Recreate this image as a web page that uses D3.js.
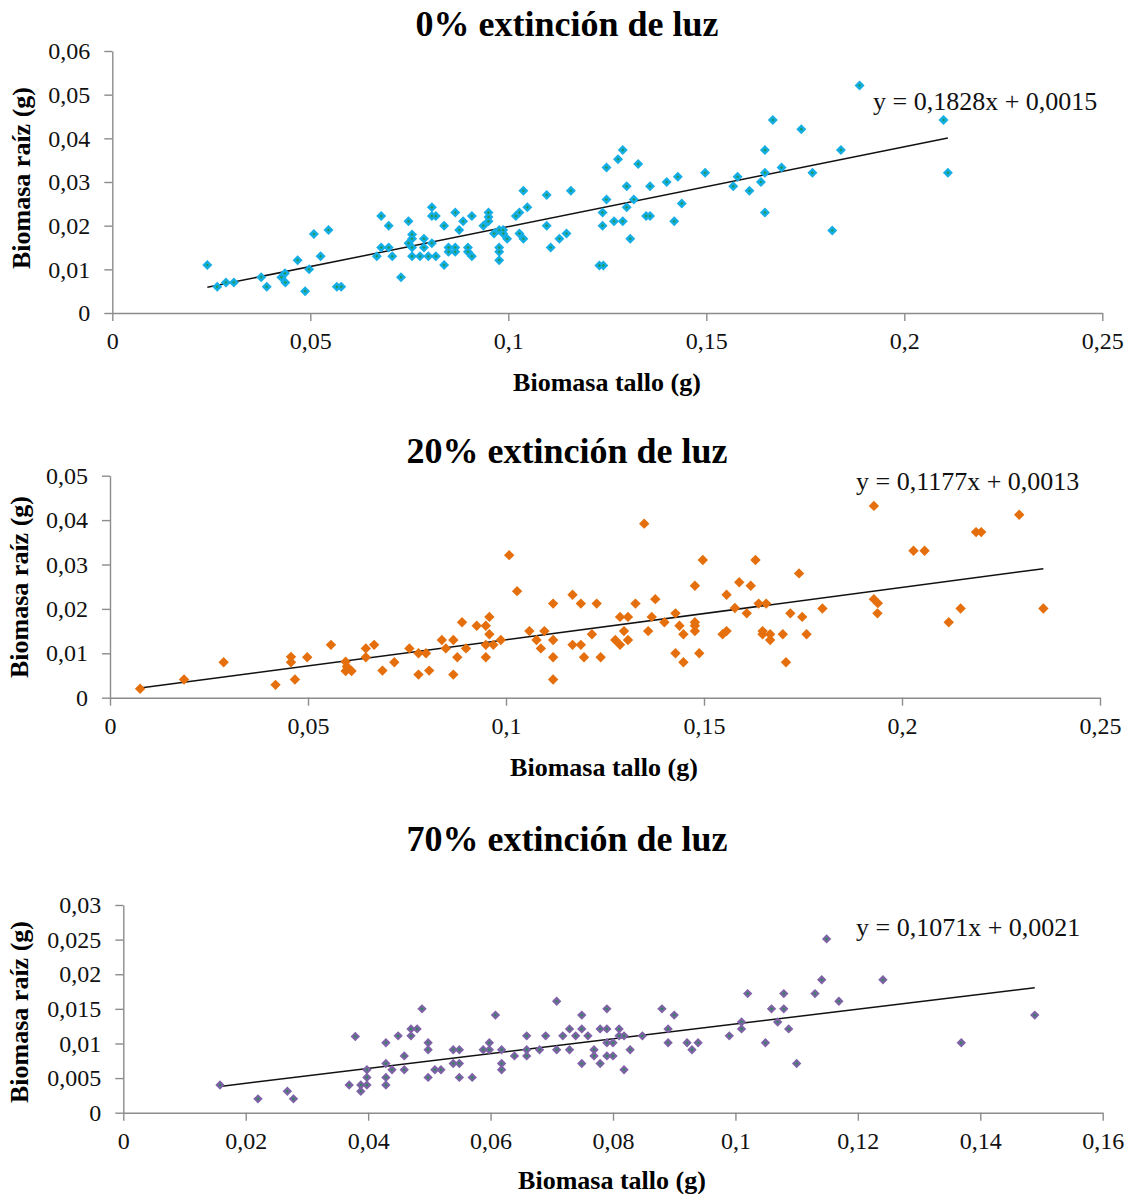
<!DOCTYPE html>
<html>
<head>
<meta charset="utf-8">
<script src="https://cdn.jsdelivr.net/npm/d3@7"></script>
<style>
  html, body { margin: 0; padding: 0; background: #fff; }
  svg { display: block; }
</style>
</head>
<body>
<svg id="chart" width="1131" height="1194"></svg>
<script>
// Biomasa tallo (x) vs biomasa raíz (y), in grams, for each light-extinction treatment
const puntos0 = [
  [0.024,0.011],[0.0265,0.006],[0.0287,0.007],[0.0307,0.007],[0.0376,0.0082],[0.039,0.006],
  [0.0427,0.0082],[0.0436,0.0091],[0.0437,0.007],[0.0468,0.0121],[0.0487,0.005],[0.0497,0.010],
  [0.0509,0.0181],[0.0526,0.013],[0.0546,0.019],[0.0567,0.006],[0.0578,0.006],[0.0668,0.013],
  [0.0679,0.0222],[0.0679,0.015],[0.0698,0.020],[0.0698,0.015],[0.0707,0.013],[0.0729,0.0082],
  [0.0748,0.021],[0.0748,0.016],[0.0757,0.018],[0.0757,0.017],[0.0757,0.015],[0.0757,0.013],
  [0.0777,0.013],[0.0787,0.017],[0.0787,0.015],[0.0798,0.013],[0.0807,0.0242],[0.0807,0.0222],
  [0.0817,0.0222],[0.0807,0.016],[0.0817,0.013],[0.0838,0.020],[0.0838,0.011],[0.0849,0.015],
  [0.0849,0.014],[0.0866,0.023],[0.0866,0.015],[0.0866,0.014],[0.0876,0.019],[0.0886,0.021],
  [0.0898,0.015],[0.0898,0.014],[0.0908,0.0222],[0.0908,0.013],[0.0937,0.020],[0.095,0.023],
  [0.095,0.022],[0.095,0.021],[0.0964,0.0182],[0.0977,0.019],[0.0977,0.015],[0.0977,0.014],
  [0.0977,0.0121],[0.0987,0.019],[0.0987,0.0182],[0.0997,0.017],[0.1019,0.0222],[0.1028,0.023],
  [0.1028,0.0182],[0.1038,0.028],[0.1038,0.017],[0.1048,0.0242],[0.1097,0.027],[0.1097,0.020],
  [0.1107,0.015],[0.1129,0.017],[0.1147,0.0182],[0.1158,0.028],[0.123,0.0109],[0.124,0.0109],
  [0.1238,0.023],[0.1238,0.020],[0.1248,0.0333],[0.1248,0.026],[0.1267,0.021],[0.1277,0.0352],
  [0.1289,0.0373],[0.1289,0.021],[0.1299,0.029],[0.1299,0.0242],[0.1308,0.017],[0.1317,0.026],
  [0.1328,0.0341],[0.1348,0.0222],[0.1358,0.0222],[0.1358,0.029],[0.14,0.030],[0.1419,0.021],
  [0.1428,0.0312],[0.1438,0.0251],[0.1497,0.0321],[0.1568,0.029],[0.1579,0.0312],[0.1609,0.028],
  [0.1638,0.030],[0.1648,0.0373],[0.1648,0.0321],[0.1648,0.023],[0.1668,0.0442],[0.169,0.0333],
  [0.174,0.0421],[0.1768,0.0321],[0.1818,0.0189],[0.184,0.0373],[0.1887,0.0521],[0.2099,0.0442],
  [0.211,0.0321]
];

const puntos20 = [
  [0.0076,0.002],[0.0187,0.0041],[0.0287,0.008],[0.0418,0.0029],[0.0457,0.0092],[0.0457,0.008],
  [0.0467,0.0041],[0.0498,0.0091],[0.0558,0.0119],[0.0595,0.0081],[0.0598,0.007],[0.0595,0.006],
  [0.061,0.006],[0.0646,0.0111],[0.0646,0.0091],[0.0667,0.0119],[0.0688,0.0061],[0.0718,0.008],
  [0.0756,0.0111],[0.0779,0.01],[0.0779,0.0052],[0.0798,0.01],[0.0806,0.0061],[0.0838,0.013],
  [0.0848,0.0111],[0.0867,0.013],[0.0867,0.0052],[0.0877,0.0091],[0.0889,0.017],[0.0899,0.0111],
  [0.0926,0.0162],[0.0949,0.0162],[0.0949,0.0119],[0.0949,0.0091],[0.0958,0.0182],[0.0958,0.0143],
  [0.0968,0.0119],[0.0987,0.013],[0.1008,0.0321],[0.1028,0.024],[0.1059,0.015],[0.1077,0.013],
  [0.1088,0.0111],[0.1097,0.015],[0.1119,0.0212],[0.1119,0.013],[0.1119,0.0091],[0.1119,0.0041],
  [0.1168,0.0232],[0.1168,0.0119],[0.1189,0.0212],[0.1189,0.0119],[0.1197,0.0091],[0.1217,0.0143],
  [0.1229,0.0212],[0.1239,0.0091],[0.1276,0.013],[0.1288,0.0182],[0.1288,0.0119],[0.1298,0.015],
  [0.1308,0.0182],[0.1308,0.013],[0.1327,0.0212],[0.1349,0.0392],[0.1359,0.015],[0.1368,0.0182],
  [0.1377,0.0222],[0.14,0.017],[0.1428,0.019],[0.1428,0.01],[0.1438,0.0162],[0.1448,0.0143],
  [0.1448,0.008],[0.1477,0.0252],[0.1477,0.017],[0.1477,0.0162],[0.1477,0.015],[0.1488,0.01],
  [0.1497,0.031],[0.1547,0.0143],[0.1557,0.0232],[0.1557,0.015],[0.1578,0.0202],[0.1589,0.026],
  [0.1608,0.019],[0.1618,0.0252],[0.163,0.031],[0.1638,0.0212],[0.1648,0.015],[0.1648,0.0143],
  [0.1657,0.0212],[0.1667,0.0143],[0.1667,0.013],[0.1699,0.0143],[0.1707,0.008],[0.1718,0.019],
  [0.174,0.028],[0.1748,0.0182],[0.1759,0.0143],[0.1799,0.0201],[0.1929,0.0432],[0.1929,0.0222],
  [0.1939,0.0213],[0.1938,0.019],[0.2029,0.0331],[0.2057,0.0331],[0.2118,0.017],[0.2148,0.0201],
  [0.2187,0.0373],[0.22,0.0373],[0.2296,0.0412],[0.2357,0.0201]
];

const puntos70 = [
  [0.0158,0.004],[0.022,0.002],[0.0268,0.0031],[0.0278,0.002],[0.0369,0.004],[0.0379,0.011],
  [0.0388,0.004],[0.0388,0.0031],[0.0398,0.0062],[0.0398,0.0051],[0.0398,0.004],[0.0429,0.0101],
  [0.0429,0.0071],[0.0429,0.0051],[0.0429,0.004],[0.0439,0.0062],[0.0449,0.0111],[0.0459,0.0082],
  [0.0459,0.0062],[0.047,0.0121],[0.047,0.0111],[0.048,0.0121],[0.0488,0.015],[0.0498,0.0101],
  [0.0498,0.0091],[0.0498,0.0051],[0.0509,0.0062],[0.0519,0.0062],[0.0539,0.0091],[0.0549,0.0091],
  [0.0539,0.0071],[0.0549,0.0071],[0.0549,0.0051],[0.057,0.0051],[0.0588,0.0091],[0.0598,0.0101],
  [0.0598,0.0091],[0.0608,0.0141],[0.0618,0.0091],[0.0618,0.0071],[0.0618,0.0062],[0.0639,0.0082],
  [0.0659,0.0111],[0.0659,0.0091],[0.0659,0.0082],[0.068,0.0091],[0.069,0.0111],[0.0708,0.0161],
  [0.0708,0.0091],[0.0718,0.0111],[0.0729,0.0121],[0.0729,0.0091],[0.0739,0.0111],[0.0749,0.0141],
  [0.0749,0.0121],[0.0749,0.0071],[0.0759,0.0111],[0.0769,0.0091],[0.0769,0.0082],[0.0779,0.0121],
  [0.0779,0.0071],[0.079,0.015],[0.079,0.0121],[0.079,0.0101],[0.079,0.0082],[0.08,0.0101],
  [0.08,0.0082],[0.081,0.0121],[0.081,0.0111],[0.0818,0.0111],[0.0818,0.0062],[0.0828,0.0091],
  [0.0848,0.0111],[0.088,0.015],[0.089,0.0121],[0.089,0.0101],[0.09,0.0141],[0.0921,0.0101],
  [0.0929,0.0091],[0.0939,0.0101],[0.099,0.0111],[0.101,0.0131],[0.101,0.0121],[0.102,0.0172],
  [0.1049,0.0101],[0.1059,0.015],[0.1069,0.0131],[0.1079,0.0172],[0.1079,0.015],[0.1087,0.0121],
  [0.11,0.0071],[0.113,0.0172],[0.1141,0.0192],[0.1149,0.0251],[0.1169,0.0161],[0.1241,0.0192],
  [0.1369,0.0101],[0.1489,0.0141]
];

// Linear trendline coefficients [slope, intercept]
const ajuste0 = [0.1828, 0.0015];
const ajuste20 = [0.1177, 0.0013];
const ajuste70 = [0.1071, 0.0021];

// Axis tick values
const ticksX0 = [0, 0.05, 0.1, 0.15, 0.2, 0.25];
const ticksY0 = [0, 0.01, 0.02, 0.03, 0.04, 0.05, 0.06];
const ticksX20 = [0, 0.05, 0.1, 0.15, 0.2, 0.25];
const ticksY20 = [0, 0.01, 0.02, 0.03, 0.04, 0.05];
const ticksX70 = [0, 0.02, 0.04, 0.06, 0.08, 0.1, 0.12, 0.14, 0.16];
const ticksY70 = [0, 0.005, 0.01, 0.015, 0.02, 0.025, 0.03];

const titulos = ["0% extinción de luz", "20% extinción de luz", "70% extinción de luz"];
const etiquetaX = "Biomasa tallo (g)";
const etiquetaY = "Biomasa raíz (g)";

const svg = d3.select("#chart");
const SERIF = "'Liberation Serif', 'Times New Roman', serif";

// Excel-style square diamond marker
const diamante = {
  draw(ctx, size) {
    const r = Math.sqrt(size / 2);
    ctx.moveTo(0, -r); ctx.lineTo(r, 0); ctx.lineTo(0, r); ctx.lineTo(-r, 0); ctx.closePath();
  }
};

const fmt = v => String(+v.toFixed(4)).replace(".", ",");

function panel(cfg) {
  const g = svg.append("g");
  const x = d3.scaleLinear().domain([0, cfg.ticksX[cfg.ticksX.length - 1]]).range([cfg.x0, cfg.x1]);
  const y = d3.scaleLinear().domain([0, cfg.ticksY[cfg.ticksY.length - 1]]).range([cfg.y0, cfg.y1]);

  // title
  g.append("text")
    .attr("x", cfg.tx).attr("y", cfg.ty)
    .attr("text-anchor", "middle")
    .style("font-family", SERIF).style("font-weight", "bold").style("font-size", "36px")
    .text(cfg.titulo);

  // axes
  const ax = g.append("g").attr("transform", `translate(0,${cfg.y0})`)
    .call(d3.axisBottom(x).tickValues(cfg.ticksX).tickFormat(fmt).tickSize(8).tickSizeOuter(0).tickPadding(11));
  const ay = g.append("g").attr("transform", `translate(${cfg.x0},0)`)
    .call(d3.axisLeft(y).tickValues(cfg.ticksY).tickFormat(fmt).tickSize(8).tickSizeOuter(0).tickPadding(14));
  [ax, ay].forEach(a => {
    a.select(".domain").attr("stroke", "#8c8c8c").attr("stroke-width", 1.4);
    a.selectAll(".tick line").attr("stroke", "#8c8c8c").attr("stroke-width", 1.4);
    a.selectAll(".tick text").attr("fill", "#111")
      .style("font-family", SERIF).style("font-size", "24px");
  });

  // axis titles
  g.append("text")
    .attr("x", cfg.lx).attr("y", cfg.ly)
    .attr("text-anchor", "middle")
    .style("font-family", SERIF).style("font-weight", "bold").style("font-size", "26px")
    .text(etiquetaX);
  g.append("text")
    .attr("transform", `translate(${cfg.yx},${cfg.yy}) rotate(-90)`)
    .attr("text-anchor", "middle")
    .style("font-family", SERIF).style("font-weight", "bold").style("font-size", "26px")
    .text(etiquetaY);

  // trendline across the observed stem-biomass range
  const [m, b] = cfg.ajuste;
  const ext = d3.extent(cfg.datos, d => d[0]);
  g.append("line")
    .attr("x1", x(ext[0])).attr("y1", y(m * ext[0] + b))
    .attr("x2", x(ext[1])).attr("y2", y(m * ext[1] + b))
    .attr("stroke", "#111").attr("stroke-width", 1.5);

  // markers
  const sym = d3.symbol().type(diamante);
  const pts = g.append("g");
  pts.selectAll("path.m").data(cfg.datos).join("path")
    .attr("class", "m")
    .attr("transform", d => `translate(${x(d[0])},${y(d[1])})`)
    .attr("d", sym.size(cfg.talla)())
    .attr("fill", cfg.color);
  if (cfg.centro) {
    pts.selectAll("path.c").data(cfg.datos).join("path")
      .attr("class", "c")
      .attr("transform", d => `translate(${x(d[0])},${y(d[1])})`)
      .attr("d", d3.symbol().type(diamante).size(5)())
      .attr("fill", cfg.centro);
  }

  // equation
  g.append("text")
    .attr("x", cfg.ex).attr("y", cfg.ey)
    .style("font-family", SERIF).style("font-size", "26px").attr("fill", "#111")
    .text(`y = ${fmt(m)}x + ${fmt(b)}`);
}

panel({
  titulo: titulos[0], datos: puntos0, ajuste: ajuste0, ticksX: ticksX0, ticksY: ticksY0,
  x0: 112.3, x1: 1102.3, y0: 313, y1: 51,
  tx: 567, ty: 36, lx: 607, ly: 391, yx: 30, yy: 178, ex: 873, ey: 110,
  color: "#14ade6", centro: "#1e9b52", talla: 50
});
panel({
  titulo: titulos[1], datos: puntos20, ajuste: ajuste20, ticksX: ticksX20, ticksY: ticksY20,
  x0: 110, x1: 1100, y0: 697.7, y1: 475.7,
  tx: 567, ty: 463, lx: 604, ly: 776, yx: 28, yy: 587, ex: 856, ey: 490,
  color: "#e56f0d", centro: null, talla: 54
});
panel({
  titulo: titulos[2], datos: puntos70, ajuste: ajuste70, ticksX: ticksX70, ticksY: ticksY70,
  x0: 123.3, x1: 1102.7, y0: 1112.7, y1: 905,
  tx: 567, ty: 851, lx: 612, ly: 1189, yx: 28, yy: 1012, ex: 856, ey: 936,
  color: "#7e62a6", centro: "#2b8a5a", talla: 44
});
</script>
</body>
</html>
